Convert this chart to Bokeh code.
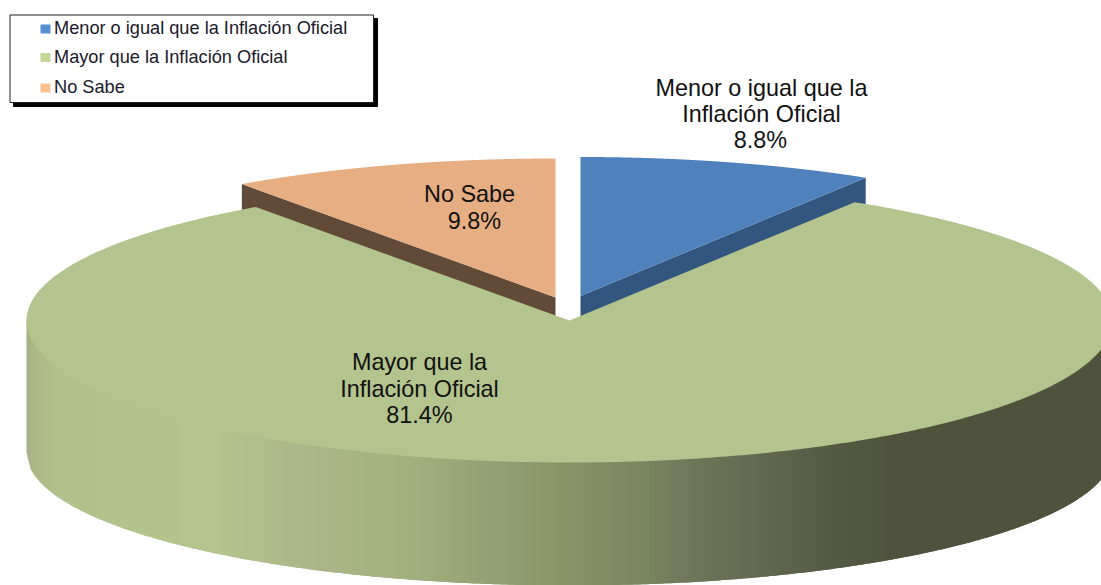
import numpy as np
from bokeh.plotting import figure
from bokeh.models import Range1d
from bokeh.core.properties import value
from bokeh.embed import file_html
from bokeh.resources import INLINE

categories = ["Menor o igual que la Inflación Oficial", "Mayor que la Inflación Oficial", "No Sabe"]
shares = [8.8, 81.4, 9.8]
label_lines = [["Menor o igual que la", "Inflación Oficial", "8.8%"],
               ["Mayor que la", "Inflación Oficial", "81.4%"],
               ["No Sabe", "9.8%"]]

FONT = value("Liberation Sans")
A, B, B_FRONT = 543.0, 139.0, 142.0
WALL_BASE, WALL_B = 452.0, 133.0
DEPTH = 123.0
centers = [(580.0, 295.5), (569.0, 320.0), (555.0, 297.0)]
top_colors = ["#4f81bd", "#b4c48e", "#e6ae82"]
wall_colors = ["#335680", "#b4c48e", "#614a37"]
legend_colors = ["#558ed5", "#c3d69b", "#fac090"]
label_x = [[761, 761, 760], [419, 419, 419], [469, 474]]
label_y = [[87, 113, 139], [361, 388, 414], [193, 220]]
grad_x = [26, 34, 60, 220, 280, 400, 500, 550, 640, 700, 800, 850, 890, 1120]
grad_c = [(0xa5, 0xae, 0x82), (0xac, 0xb8, 0x87), (0xb3, 0xc2, 0x8d), (0xb4, 0xc4, 0x8e),
          (0xad, 0xb9, 0x8a), (0xa3, 0xb0, 0x80), (0x92, 0x9f, 0x74), (0x8a, 0x95, 0x69),
          (0x7b, 0x86, 0x62), (0x6c, 0x75, 0x58), (0x5a, 0x61, 0x48), (0x52, 0x58, 0x40),
          (0x4f, 0x53, 0x3c), (0x4f, 0x53, 0x3c)]

p = figure(width=1101, height=585, output_backend="svg", toolbar_location=None,
           x_range=Range1d(0, 1101), y_range=Range1d(585, 0), min_border=0,
           outline_line_color=None, background_fill_color="white")
p.axis.visible = False
p.grid.visible = False

fracs = np.cumsum([0] + shares) / sum(shares)
angles = 2 * np.pi * fracs


def sector(cx, cy, a0, a1):
    t = np.linspace(a0, a1, 500)
    xs = cx + A * np.sin(t)
    c = np.cos(t)
    ys = cy - np.where(c > 0, B, B_FRONT) * c
    return np.r_[cx, xs], np.r_[cy, ys]


# radial inner walls of the two small slices (their lower part is hidden by the big slice)
for i, edge in ((0, angles[1]), (2, angles[2])):
    cx, cy = centers[i]
    ex, ey = cx + A * np.sin(edge), cy - B * np.cos(edge)
    p.patch([cx, ex, ex, cx], [cy, ey, ey + DEPTH, cy + DEPTH],
            fill_color=wall_colors[i], line_color=None)

# tops of the two small slices
for i in (0, 2):
    sx, sy = sector(*centers[i], angles[i], angles[i + 1])
    p.patch(sx, sy, fill_color=top_colors[i], line_color=None)

# outer wall of the big slice as shaded strips, each overlapping the next
cx, cy = centers[1]
edges = np.r_[np.arange(cx - A, cx + A, 4.0), cx + A]
u = np.clip((edges - cx) / A, -1, 1)
s = np.sqrt(1 - u ** 2)
upper_edge = cy + B_FRONT * s - 2
lower_edge = WALL_BASE + WALL_B * s
strip_x, strip_y, strip_c = [], [], []
for j in range(len(edges) - 1):
    k = min(j + 2, len(edges) - 1)
    xs_ = edges[j:k + 1]
    strip_x.append(np.r_[xs_, xs_[::-1]])
    strip_y.append(np.r_[upper_edge[j:k + 1], lower_edge[j:k + 1][::-1]])
    mid = (edges[j] + edges[j + 1]) / 2
    rgb = [int(round(np.interp(mid, grad_x, [c[q] for c in grad_c]))) for q in range(3)]
    strip_c.append("#%02x%02x%02x" % tuple(rgb))
p.patches(strip_x, strip_y, fill_color=strip_c, line_color=None)

# top of the big slice
sx, sy = sector(cx, cy, angles[1], angles[2])
p.patch(sx, sy, fill_color=top_colors[1], line_color=None)

# data labels
for lines, lxs, lys in zip(label_lines, label_x, label_y):
    p.text(lxs, lys, text=lines, text_font=FONT, text_font_size="23.4px",
           text_color="#111111", text_align="center", text_baseline="middle")

# legend
p.quad(left=[13], right=[377], top=[18], bottom=[106], fill_color="black", line_color="black")
p.quad(left=[9.5], right=[373], top=[14.5], bottom=[102], fill_color="white", line_color="#222222", line_width=1)
leg_y = [27.5, 56, 86]
box_y = [28.5, 57, 87.5]
p.quad(left=[40] * 3, right=[50] * 3, top=[y - 4.5 for y in box_y], bottom=[y + 4.5 for y in box_y],
       fill_color=legend_colors, line_color=None)
p.text([53.5] * 3, leg_y, text=categories, text_font=FONT, text_font_size="18.2px",
       text_color="#1a1a2a", text_align="left", text_baseline="middle")

open("out.html", "w").write(file_html(p, INLINE))
